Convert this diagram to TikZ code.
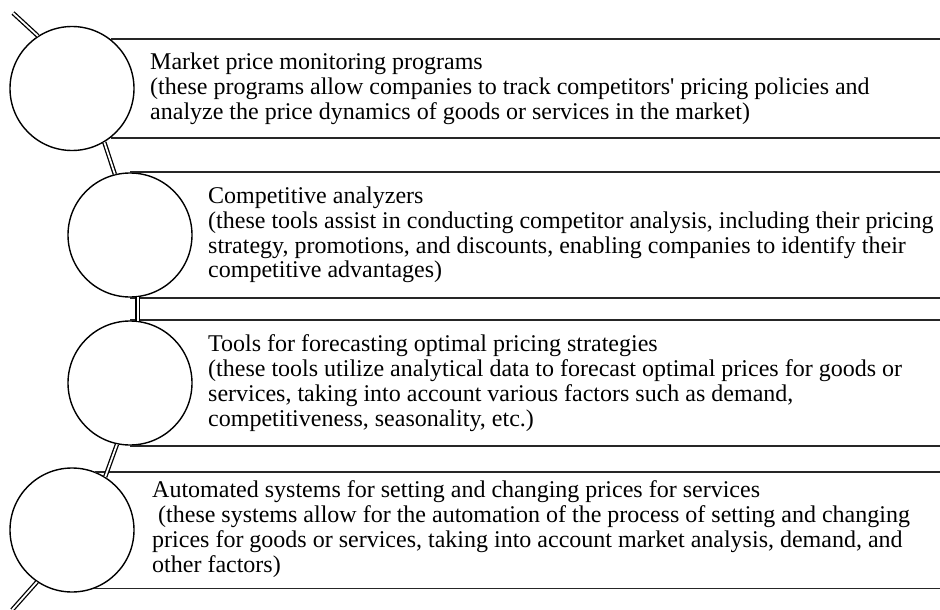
\documentclass[tikz,border=0pt]{standalone}
\usepackage{fontspec}
\newfontfamily\boxfont{Liberation Serif}

\begin{document}
\begin{tikzpicture}[x=1pt,y=-1pt]
                \useasboundingbox (0,0) rectangle (940,610);
                \begin{scope}[every node/.style={draw, circle, fill=white, line width=1.4pt, minimum size=124pt, inner sep=0}]
                        \node (C1) at (72,88.5) {};
                        \node (C2) at (130,235) {};
                        \node (C3) at (130,383) {};
                        \node (C4) at (72,530) {};
                \end{scope}
                \coordinate (E) at (940,0);
                \coordinate (In) at (13,13);
                \coordinate (Out) at (12,610);
                \begin{scope}[every path/.style={line width=1.7pt, black!85}]
                        \draw (C1.52) -- (C1.52 -| E);
                        \draw (C1.-52) -- (C1.-52 -| E);
                        \draw (C2.north) -- (C2.north -| E);
                        \draw (C2.south) -- (C2.south -| E);
                        \draw (C3.north) -- (C3.north -| E);
                        \draw (C3.south) -- (C3.south -| E);
                        \draw (C4.68) -- (C4.68 -| E);
                        \draw (C4.-69) -- (C4.-69 -| E);
                \end{scope}
                \begin{scope}[every path/.style={double, double distance=1.8pt, line width=1.3pt}]
                        \path (In) edge (C1.123);
                        \path (C1.-59) edge (C2.104);
                        \path (C2.-83.5) edge (C3.83.5);
                        \path (C3.-102) edge (C4.58);
                        \path (C4.-124) edge (Out);
                \end{scope}
                \begin{scope}[every node/.style={anchor=west, align=left, inner sep=0, font=\boxfont\fontsize{24}{24.8}\selectfont}]
                        \node (T1) at (150,88.5) {Market price monitoring programs\\(these programs allow companies to track competitors' pricing policies and\\analyze the price dynamics of goods or services in the market)};
                        \node (T2) at (208,235) {Competitive analyzers\\(these tools assist in conducting competitor analysis, including their pricing\\strategy, promotions, and discounts, enabling companies to identify their\\competitive advantages)};
                        \node (T3) at (208,383) {Tools for forecasting optimal pricing strategies\\(these tools utilize analytical data to forecast optimal prices for goods or\\services, taking into account various factors such as demand,\\competitiveness, seasonality, etc.)};
                        \node (T4) at (152,529) {Automated systems for setting and changing prices for services\\\hspace*{6pt}(these systems allow for the automation of the process of setting and changing\\prices for goods or services, taking into account market analysis, demand, and\\other factors)};
                \end{scope}
        \end{tikzpicture}
\end{document}
